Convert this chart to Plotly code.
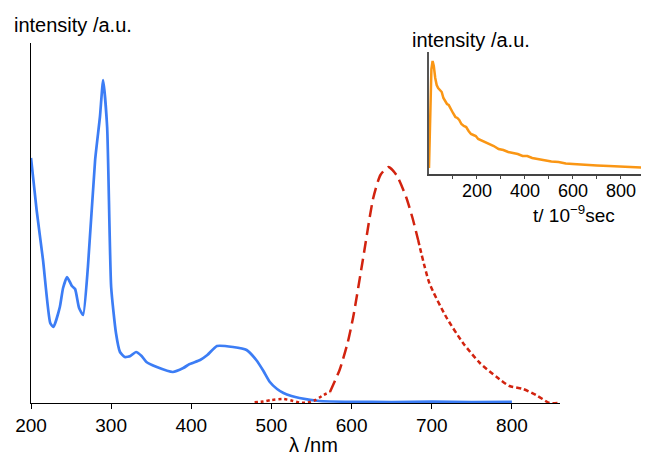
import plotly.graph_objects as go

# Absorption spectrum (blue)
abs_wl = [200, 207, 215, 224, 228, 236, 240, 245, 251, 255, 260, 265, 271, 280, 286, 290,
          295, 300, 306, 311, 317, 324, 331, 338, 344, 357, 377, 390, 398, 411, 420, 432,
          452, 469, 481, 490, 498, 507, 515, 525, 535, 560, 600, 650, 700, 750, 800]
abs_int = [245, 193, 143, 80, 76, 96, 115, 126, 117, 114, 95, 88, 136, 243, 286, 323,
           276, 116, 70, 51, 46, 47, 51, 47, 41, 36, 31, 35, 39, 43, 48, 57,
           56, 53, 43, 32, 21, 14, 10, 7, 5, 2, 1.2, 1, 1.3, 1, 1.2]

# Emission spectrum (red), split by dash style
em_dot_wl = [479, 490, 500, 515, 525, 535, 545, 555, 565, 573]
em_dot_int = [0.7, 1.5, 3, 4, 2.5, 0.5, 0.5, 3, 8, 11]
em_dash_wl = [573, 585, 595, 602, 614, 627, 636, 646, 656, 668, 676, 683]
em_dash_int = [11, 33, 60, 86, 143, 205, 228, 236, 228, 206, 185, 163]
em_sdash_wl = [683, 697, 718, 739, 760, 781, 797, 814, 830, 847, 857]
em_sdash_int = [163, 120, 86, 60, 40, 26, 17, 14, 8, 0, 0]

# Luminescence decay (orange, inset)
dec_t = [0, 5, 10, 15, 20, 26, 32, 38, 45, 53, 60, 68, 75, 82, 90, 100, 110, 118, 126, 135,
         145, 155, 165, 175, 185, 195, 205, 215, 230, 250, 270, 290, 310, 330, 350, 370, 390,
         410, 430, 450, 480, 510, 540, 570, 600, 650, 700, 750, 800, 850, 900, 917]
dec_int = [6, 60, 105, 113, 108, 96, 89, 86, 84, 82, 76, 72, 70, 69, 65, 61, 57, 56, 54, 50,
           48, 47, 43, 40, 39, 38, 35, 34, 32, 30, 28, 25, 24, 22, 21, 20, 18,
           18, 16, 15, 14, 12.5, 12, 10.5, 10, 9, 8.5, 8, 7.5, 7, 6.5, 6]

main_ticks = [200, 300, 400, 500, 600, 700, 800]
inset_ticks = [100, 200, 300, 400, 500, 600, 700, 800, 900]
inset_label_vals = [200, 400, 600, 800]

FONT = "Liberation Sans, Arial, Helvetica, sans-serif"
BLUE = "rgb(60,125,245)"
RED = "rgb(210,35,15)"
ORANGE = "rgb(250,150,20)"

fig = go.Figure()
fig.add_trace(go.Scatter(x=abs_wl, y=abs_int, mode="lines", line=dict(color=BLUE, width=2.7, shape="spline", smoothing=0.5),
                         xaxis="x", yaxis="y"))
fig.add_trace(go.Scatter(x=em_dot_wl, y=em_dot_int, mode="lines", line=dict(color=RED, width=2.5, dash="3px,3px", shape="spline", smoothing=0.6),
                         xaxis="x", yaxis="y"))
fig.add_trace(go.Scatter(x=em_dash_wl, y=em_dash_int, mode="lines", line=dict(color=RED, width=2.5, dash="12px,6px", shape="spline", smoothing=0.6),
                         xaxis="x", yaxis="y"))
fig.add_trace(go.Scatter(x=em_sdash_wl, y=em_sdash_int, mode="lines", line=dict(color=RED, width=2.5, dash="5px,3px", shape="spline", smoothing=0.6),
                         xaxis="x", yaxis="y"))
fig.add_trace(go.Scatter(x=dec_t, y=dec_int, mode="lines", line=dict(color=ORANGE, width=2.5),
                         xaxis="x2", yaxis="y2"))
# invisible trace to activate the tick-only overlay axis
fig.add_trace(go.Scatter(x=[0, 917], y=[None, None], mode="lines", hoverinfo="skip",
                         xaxis="x3", yaxis="y2"))

OFF = 8  # page body margin
W, H = 649 - OFF, 455 - OFF
ml, mr, mt, mb = 31 - OFF, 0, 43 - OFF, 52
pw = W - ml - mr
ph = H - mt - mb

def fx(px):  # screen px -> plot-area fraction
    return (px - OFF - ml) / pw

def fy(py):  # screen py -> plot-area fraction
    return (H - mb - (py - OFF)) / ph

inset_dom = [fx(429), 1]

fig.update_layout(
    width=W, height=H,
    margin=dict(l=ml, r=mr, t=mt, b=mb),
    paper_bgcolor="white", plot_bgcolor="rgba(0,0,0,0)",
    showlegend=False,
    font=dict(family=FONT, size=19, color="black"),
    xaxis=dict(domain=[0, fx(560)], range=[200, 860], showline=True, linecolor="black", linewidth=1,
               showgrid=False, zeroline=False, ticks="outside", ticklen=5, tickcolor="black",
               tickvals=main_ticks, tickfont=dict(size=19, family=FONT), anchor="y"),
    yaxis=dict(domain=[0, 1], range=[0, 360], showline=True, linecolor="black", linewidth=1,
               showgrid=False, zeroline=False, showticklabels=False, ticks="", anchor="x"),
    xaxis2=dict(domain=inset_dom, range=[0, 917], showline=True, linecolor="#444", linewidth=1.5,
                showgrid=False, zeroline=False, ticks="",
                tickvals=inset_label_vals, tickfont=dict(size=18, family=FONT), anchor="y2"),
    xaxis3=dict(domain=inset_dom, range=[0, 917], overlaying="x2", anchor="y2", side="bottom",
                showline=False, showgrid=False, zeroline=False, ticks="outside", ticklen=4,
                tickcolor="#444", tickvals=inset_ticks, showticklabels=False),
    yaxis2=dict(domain=[fy(174), fy(52)], range=[0, 122], showline=True, linecolor="#555", linewidth=2,
                showgrid=False, zeroline=False, showticklabels=False, ticks="", anchor="x2"),
    annotations=[
        dict(text="intensity /a.u.", x=fx(12), y=fy(25), xref="paper", yref="paper",
             xanchor="left", yanchor="middle", showarrow=False, font=dict(size=20, family=FONT)),
        dict(text="intensity /a.u.", x=fx(410), y=fy(40), xref="paper", yref="paper",
             xanchor="left", yanchor="middle", showarrow=False, font=dict(size=20, family=FONT)),
        dict(text="λ /nm", x=fx(313), y=fy(445), xref="paper", yref="paper",
             xanchor="center", yanchor="middle", showarrow=False, font=dict(size=20, family=FONT)),
        dict(text="t/ 10<sup>−9</sup>sec", x=fx(574), y=fy(214), xref="paper", yref="paper",
             xanchor="center", yanchor="middle", showarrow=False, font=dict(size=19, family=FONT)),
    ],
)

fig.write_html("out.html")
